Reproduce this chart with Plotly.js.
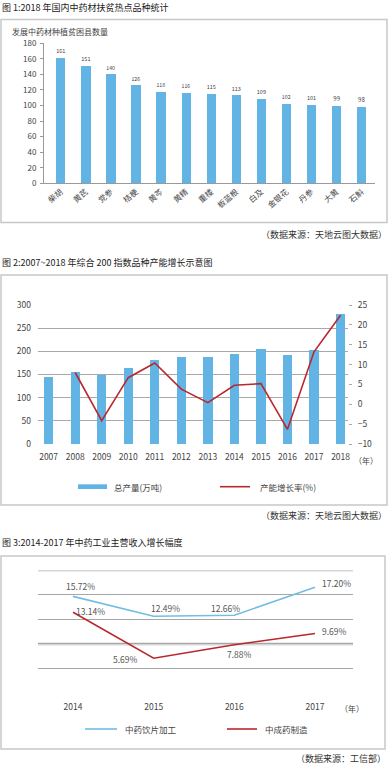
<!DOCTYPE html>
<html>
<head>
<meta charset="utf-8">
<script src="https://cdn.plot.ly/plotly-3.0.1.min.js"></script>
<style>html,body{margin:0;padding:0;background:#fff;}#chart{width:388px;height:768px;}</style>
</head>
<body>
<div id="chart"></div>
<script>
// ---------- Data ----------
const herbNames = ['柴胡','黄芪','党参','桔梗','黄芩','黄精','重楼','板蓝根','白及','金银花','丹参','大黄','石斛'];
const herbCounts = [161,151,140,126,118,116,115,113,109,102,101,99,98];

const years2 = [2007,2008,2009,2010,2011,2012,2013,2014,2015,2016,2017,2018];
const output2 = [145,156,149,165,181,187,188,194,206,192,203,280];
const growth2 = [null,8.0,-4.1,6.7,10.4,3.8,0.4,4.8,5.2,-6.3,13.2,22.4];
const seriesNames2 = ['总产量(万吨)','产能增长率(%)'];

const years3 = [2014,2015,2016,2017];
const pieces3 = [15.72,12.49,12.66,17.20];
const patent3 = [13.14,5.69,7.88,9.69];
const seriesNames3 = ['中药饮片加工','中成药制造'];

const titles = ['图 1:2018 年国内中药材扶贫热点品种统计','图 2:2007~2018 年综合 200 指数品种产能增长示意图','图 3:2014-2017 年中药工业主营收入增长幅度'];
const sources = ['（数据来源：天地云图大数据）','（数据来源：天地云图大数据）','（数据来源：工信部）'];

// ---------- Helpers ----------
const W = 388, H = 768;
const px = x => x / W;
const py = y => 1 - y / H;
const FONT = '"Noto Sans CJK SC", "Noto Sans", sans-serif';
const BAR = '#62b4e4';
const RED = '#b8282c';
const BLUE3 = '#72bde3';

const traces = [
  {type:'bar', x: herbNames, y: herbCounts, xaxis:'x', yaxis:'y', marker:{color:BAR}, width:0.37,
   text: herbCounts.map(String), textposition:'outside', cliponaxis:false,
   textfont:{size:6, color:'#444', family:FONT}, hoverinfo:'none'},
  {type:'bar', name: seriesNames2[0], x: years2, y: output2, xaxis:'x2', yaxis:'y2', marker:{color:BAR}, width:0.35, hoverinfo:'none'},
  {type:'scatter', mode:'lines', name: seriesNames2[1], x: years2, y: growth2, xaxis:'x2', yaxis:'y3', line:{color:RED, width:1.6}, connectgaps:false, hoverinfo:'none'},
  {type:'scatter', mode:'lines', name: seriesNames3[0], x: years3, y: pieces3, xaxis:'x3', yaxis:'y4', line:{color:BLUE3, width:1.6}, hoverinfo:'none', cliponaxis:false},
  {type:'scatter', mode:'lines', name: seriesNames3[1], x: years3, y: patent3, xaxis:'x3', yaxis:'y4', line:{color:RED, width:1.6}, hoverinfo:'none', cliponaxis:false}
];

const tickFont = {family:FONT, size:8.5, color:'#444'};

const shapes = [
  // frames
  {type:'rect', xref:'paper', yref:'paper', x0:px(1), x1:px(387), y0:py(19.5), y1:py(222.5), line:{color:'#c8c8c8', width:1.5}},
  {type:'rect', xref:'paper', yref:'paper', x0:px(1), x1:px(387), y0:py(275), y1:py(505), line:{color:'#c8c8c8', width:1.5}},
  {type:'rect', xref:'paper', yref:'paper', x0:px(1), x1:px(385), y0:py(556), y1:py(749), line:{color:'#c8c8c8', width:1.5}},
  // chart 3 thick light gridlines
  {type:'line', xref:'x3 domain', yref:'y4', x0:0, x1:1, y0:20, y1:20, line:{color:'#d6d6d6', width:3}, layer:'below'},
  {type:'line', xref:'x3 domain', yref:'y4', x0:0, x1:1, y0:8, y1:8, line:{color:'#d6d6d6', width:3}, layer:'below'},
  // chart 2 legend swatches
  {type:'rect', xref:'paper', yref:'paper', x0:px(78), x1:px(107), y0:py(489), y1:py(484.3), fillcolor:BAR, line:{width:0}},
  {type:'line', xref:'paper', yref:'paper', x0:px(220), x1:px(250), y0:py(486.7), y1:py(486.7), line:{color:RED, width:1.6}},
  // chart 3 legend swatches
  {type:'line', xref:'paper', yref:'paper', x0:px(85), x1:px(117), y0:py(729), y1:py(729), line:{color:BLUE3, width:1.6}},
  {type:'line', xref:'paper', yref:'paper', x0:px(227), x1:px(257), y0:py(729), y1:py(729), line:{color:RED, width:1.6}}
];

const ann = (x, y, text, opts={}) => Object.assign({xref:'paper', yref:'paper', x:px(x), y:py(y), text, showarrow:false,
  xanchor:'left', yanchor:'middle', font:{family:FONT, size:8.5, color:'#444'}}, opts);

const annotations = [
  ann(0, 7.5, titles[0], {font:{family:FONT, size:9, color:'#222'}}),
  ann(0, 262.7, titles[1], {font:{family:FONT, size:9, color:'#222'}}),
  ann(0, 542.7, titles[2], {font:{family:FONT, size:9, color:'#222'}}),
  ann(389, 235, sources[0], {xanchor:'right', font:{family:FONT, size:9, color:'#333'}}),
  ann(389, 515.7, sources[1], {xanchor:'right', font:{family:FONT, size:9, color:'#333'}}),
  ann(388, 758, sources[2], {xanchor:'right', font:{family:FONT, size:9, color:'#333'}}),
  ann(10, 32, '发展中药材种植贫困县数量', {font:{family:FONT, size:8, color:'#444'}}),
  ann(352, 460.7, '（年）', {font:{family:FONT, size:8, color:'#444'}}),
  ann(338, 708.3, '（年）', {font:{family:FONT, size:8, color:'#444'}}),
  ann(112, 486.7, seriesNames2[0]),
  ann(258, 486.7, seriesNames2[1]),
  ann(123, 729, seriesNames3[0]),
  ann(263, 729, seriesNames3[1])
];

// chart 3 point labels (offsets are styling only)
const offB = [[7,10],[12,8],[-9,7],[21,4]];
const offR = [[17,1],[-28,-1],[5,-9],[19,3]];
years3.forEach((yr, i) => {
  annotations.push({xref:'x3', yref:'y4', x:yr, y:pieces3[i], text:pieces3[i].toFixed(2)+'%', showarrow:false,
    xshift:offB[i][0], yshift:offB[i][1], font:{family:FONT, size:8.5, color:'#555'}});
  annotations.push({xref:'x3', yref:'y4', x:yr, y:patent3[i], text:patent3[i].toFixed(2)+'%', showarrow:false,
    xshift:offR[i][0], yshift:offR[i][1], font:{family:FONT, size:8.5, color:'#555'}});
});

const layout = {
  width: W, height: H,
  margin:{l:0, r:0, t:0, b:0, pad:0},
  paper_bgcolor:'#fff', plot_bgcolor:'rgba(0,0,0,0)',
  showlegend:false,
  font:{family:FONT},
  // chart 1
  xaxis:{domain:[px(44), px(375)], range:[-0.67, 12.53], anchor:'y', showline:true, linecolor:'#9a9a9a', linewidth:1,
    ticks:'', tickangle:-40, tickfont:{family:FONT, size:8, color:'#444'}, showgrid:false, fixedrange:true},
  yaxis:{domain:[py(183.3), py(43.3)], range:[0,180], dtick:20, anchor:'x', showline:true, linecolor:'#9a9a9a', linewidth:1,
    ticks:'outside', ticklen:3, tickcolor:'#9a9a9a', showgrid:false, zeroline:false, tickfont:{family:FONT, size:8, color:'#444'}, ticklabelstandoff:2},
  // chart 2
  xaxis2:{domain:[px(38), px(348)], range:[2006.6, 2018.28], anchor:'y2', tickvals:years2, ticks:'', showline:false, showgrid:false,
    tickfont:tickFont, ticklabelstandoff:6},
  yaxis2:{domain:[py(444), py(305)], range:[0,300], dtick:50, anchor:'x2', showgrid:true, gridcolor:'#a9a9a9', gridwidth:1, zeroline:false,
    showline:false, ticks:'', tickfont:tickFont, ticklabelstandoff:6},
  yaxis3:{overlaying:'y2', side:'right', anchor:'x2', range:[-10,25], dtick:5, showgrid:false, zeroline:false, showline:false,
    ticks:'outside', ticklen:3, tickcolor:'#a9a9a9', tickfont:tickFont, ticklabelstandoff:4},
  // chart 3
  xaxis3:{domain:[px(38), px(353)], range:[2013.566, 2017.471], anchor:'y4', tickvals:years3, ticks:'', showline:false, showgrid:false,
    tickfont:tickFont, ticklabelstandoff:7},
  yaxis4:{domain:[py(693.3), py(570)], range:[0,20], dtick:4, anchor:'x3', showgrid:true, gridcolor:'#a6a6a6', gridwidth:1, zeroline:false,
    showline:false, ticks:'', showticklabels:false},
  shapes, annotations,
  bargap:0
};

Plotly.newPlot('chart', traces, layout, {staticPlot:true, displayModeBar:false});
</script>
</body>
</html>
